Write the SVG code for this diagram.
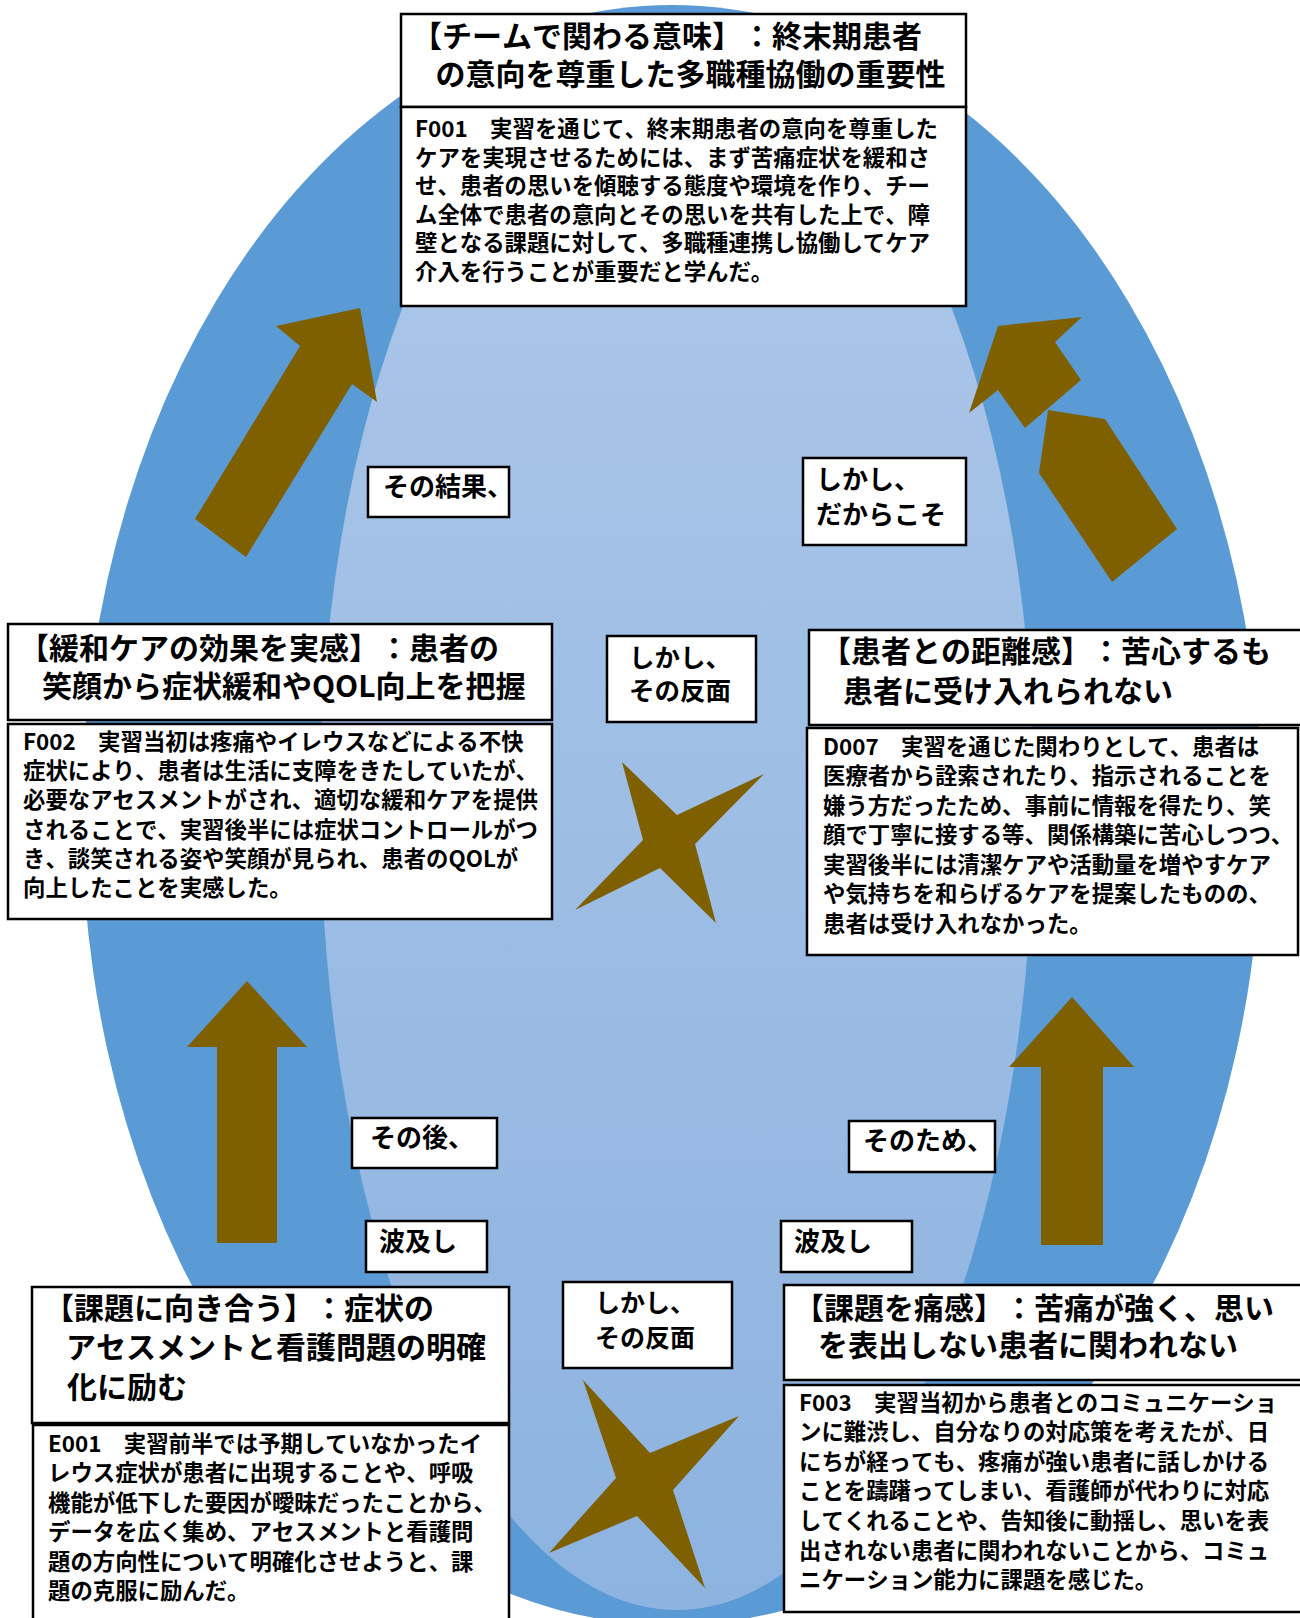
<svg xmlns="http://www.w3.org/2000/svg" width="1300" height="1618" viewBox="0 0 1300 1618">
<defs>
<linearGradient id="innerGrad" x1="0" y1="0" x2="0" y2="1">
<stop offset="0" stop-color="#aec8e9"/>
<stop offset="1" stop-color="#8db3e0"/>
</linearGradient>
<style>
.box{fill:#ffffff;stroke:#000000;stroke-width:2.5}
.arrow{fill:#7f6000;stroke:none}
text{font-family:"Noto Sans CJK JP","Noto Sans",sans-serif;font-weight:bold;fill:#000000;text-spacing-trim:space-all;font-kerning:none}
.hd{font-size:30px}
.bd{font-size:22.4px}
.lb{font-size:26px}
</style>
</defs>
<rect x="0" y="0" width="1300" height="1618" fill="#ffffff"/>
<g id="background">
<ellipse cx="672" cy="815" rx="590" ry="810" fill="#5b9bd5"/>
<path d="M320,800 A357,770 0 0 1 1034,800 A357,810 0 0 1 320,800 Z" fill="url(#innerGrad)"/>
</g>
<g id="connectors">
<polygon class="arrow" points="195,519 300,346 276,326 360,308 377,402 352,384 246,557"/>
<polygon class="arrow" points="998,326 1082,317 1055,342 1081,380 1025,428 998,390 969,413"/>
<polygon class="arrow" points="1048,410 1105,419 1177,529 1112,582 1039,473"/>
<polygon class="arrow" points="247,981 307,1047 277,1047 277,1243 217,1243 217,1047 187,1047"/>
<polygon class="arrow" points="1072,997 1134,1067 1103,1067 1103,1245 1041,1245 1041,1067 1009,1067"/>
<polygon class="arrow" points="622,762 677,815 764,774 695,844 716,923 660,868 575,910 643,840"/>
<polygon class="arrow" points="583,1380 650,1453 739,1416 673,1490 705,1588 637,1516 549,1553 616,1478"/>
<g id="connector-labels">
<rect class="box" x="368" y="467" width="141" height="50"/>
<text class="lb" x="383" y="496">その結果、</text>
<rect class="box" x="803" y="458" width="163" height="87"/>
<text class="lb"><tspan x="816" y="489">しかし、</tspan><tspan x="816" y="524">だからこそ</tspan></text>
<rect class="box" x="607" y="636" width="149" height="86"/>
<text class="lb" style="font-size:25.5px"><tspan x="629" y="667">しかし、</tspan><tspan x="629" y="700">その反面</tspan></text>
<rect class="box" x="352" y="1118" width="145" height="50"/>
<text class="lb" x="370" y="1147">その後、</text>
<rect class="box" x="366" y="1221" width="121" height="51"/>
<text class="lb" x="379" y="1251">波及し</text>
<rect class="box" x="849" y="1121" width="146" height="51"/>
<text class="lb" x="863" y="1150">そのため、</text>
<rect class="box" x="781" y="1221" width="131" height="51"/>
<text class="lb" x="794" y="1251">波及し</text>
<rect class="box" x="563" y="1282" width="169" height="86"/>
<text class="lb" style="font-size:25px"><tspan x="595" y="1312">しかし、</tspan><tspan x="595" y="1347">その反面</tspan></text>
</g>
</g>
<g id="node-F001">
<rect class="box" x="401" y="14" width="565" height="93"/>
<text class="hd"><tspan x="412" y="46.5">【チームで関わる意味】：終末期患者</tspan><tspan x="435.5" y="84.5">の意向を尊重した多職種協働の重要性</tspan></text>
<rect class="box" x="401" y="107" width="565" height="199"/>
<text class="bd"><tspan x="415" y="137">F001　実習を通じて、終末期患者の意向を尊重した</tspan><tspan x="415" y="165.5">ケアを実現させるためには、まず苦痛症状を緩和さ</tspan><tspan x="415" y="194">せ、患者の思いを傾聴する態度や環境を作り、チー</tspan><tspan x="415" y="222.5">ム全体で患者の意向とその思いを共有した上で、障</tspan><tspan x="415" y="251">壁となる課題に対して、多職種連携し協働してケア</tspan><tspan x="415" y="279.5">介入を行うことが重要だと学んだ。</tspan></text>
</g>
<g id="node-F002">
<rect class="box" x="8" y="624" width="544" height="96"/>
<text class="hd"><tspan x="19" y="658.5">【緩和ケアの効果を実感】：患者の</tspan><tspan x="42" y="696.5">笑顔から症状緩和やQOL向上を把握</tspan></text>
<rect class="box" x="8" y="724" width="544" height="195"/>
<text class="bd"><tspan x="23" y="750">F002　実習当初は疼痛やイレウスなどによる不快</tspan><tspan x="23" y="779">症状により、患者は生活に支障をきたしていたが、</tspan><tspan x="23" y="808">必要なアセスメントがされ、適切な緩和ケアを提供</tspan><tspan x="23" y="838">されることで、実習後半には症状コントロールがつ</tspan><tspan x="23" y="867">き、談笑される姿や笑顔が見られ、患者のQOLが</tspan><tspan x="23" y="896">向上したことを実感した。</tspan></text>
</g>
<g id="node-D007">
<rect class="box" x="809" y="630" width="500" height="95"/>
<text class="hd"><tspan x="821" y="661.5">【患者との距離感】：苦心するも</tspan><tspan x="843" y="701.5">患者に受け入れられない</tspan></text>
<rect class="box" x="807" y="728" width="491" height="227"/>
<text class="bd"><tspan x="823" y="754.5">D007　実習を通じた関わりとして、患者は</tspan><tspan x="823" y="784">医療者から詮索されたり、指示されることを</tspan><tspan x="823" y="813.5">嫌う方だったため、事前に情報を得たり、笑</tspan><tspan x="823" y="843">顔で丁寧に接する等、関係構築に苦心しつつ、</tspan><tspan x="823" y="872.5">実習後半には清潔ケアや活動量を増やすケア</tspan><tspan x="823" y="902">や気持ちを和らげるケアを提案したものの、</tspan><tspan x="823" y="931.5">患者は受け入れなかった。</tspan></text>
</g>
<g id="node-E001">
<rect class="box" x="32" y="1287" width="477" height="136"/>
<text class="hd"><tspan x="44" y="1319">【課題に向き合う】：症状の</tspan><tspan x="66" y="1358">アセスメントと看護問題の明確</tspan><tspan x="67" y="1398">化に励む</tspan></text>
<rect class="box" x="33" y="1425" width="476" height="210"/>
<text class="bd"><tspan x="48" y="1452">E001　実習前半では予期していなかったイ</tspan><tspan x="48" y="1481.4">レウス症状が患者に出現することや、呼吸</tspan><tspan x="48" y="1510.8">機能が低下した要因が曖昧だったことから、</tspan><tspan x="48" y="1540.2">データを広く集め、アセスメントと看護問</tspan><tspan x="48" y="1569.6">題の方向性について明確化させようと、課</tspan><tspan x="48" y="1599">題の克服に励んだ。</tspan></text>
</g>
<g id="node-F003">
<rect class="box" x="784" y="1285" width="530" height="95"/>
<text class="hd"><tspan x="794" y="1318.5">【課題を痛感】：苦痛が強く、思い</tspan><tspan x="818" y="1356">を表出しない患者に関われない</tspan></text>
<rect class="box" x="784" y="1385" width="530" height="227"/>
<text class="bd"><tspan x="799" y="1410.5">F003　実習当初から患者とのコミュニケーショ</tspan><tspan x="799" y="1440.1">ンに難渋し、自分なりの対応策を考えたが、日</tspan><tspan x="799" y="1469.7">にちが経っても、疼痛が強い患者に話しかける</tspan><tspan x="799" y="1499.3">ことを躊躇ってしまい、看護師が代わりに対応</tspan><tspan x="799" y="1528.9">してくれることや、告知後に動揺し、思いを表</tspan><tspan x="799" y="1558.5">出されない患者に関われないことから、コミュ</tspan><tspan x="799" y="1588.1">ニケーション能力に課題を感じた。</tspan></text>
</g>
</svg>
